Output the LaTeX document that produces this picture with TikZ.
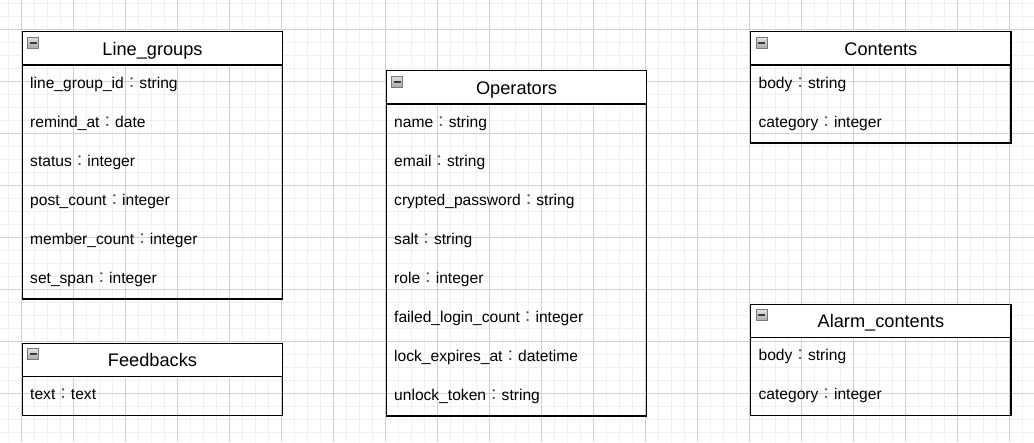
\documentclass[tikz,border=0pt]{standalone}
\usepackage{fontspec}
\setmainfont{Liberation Sans}
\newfontfamily\cjk{Noto Sans CJK JP}
\definecolor{coloncol}{HTML}{555555}
\newcommand\fwc{{\cjk\color{coloncol}：}}
\definecolor{minorgrid}{HTML}{F0F0F0}
\definecolor{majorgrid}{HTML}{D0D0D0}
\definecolor{iconborder}{HTML}{7A7A7A}
\definecolor{icontop}{HTML}{E2E2E2}
\definecolor{iconbot}{HTML}{A8A8A8}
\definecolor{icondash}{HTML}{3C3C3C}
\tikzset{
  tablebox/.style={draw=black, line width=1.3pt, rectangle, anchor=north west,
    minimum width=260.4pt, inner sep=0pt, outer sep=0pt},
  headbox/.style={draw=black, fill=white, line width=1.3pt, rectangle, anchor=north west,
    minimum width=260.4pt, minimum height=33.4pt, inner sep=0pt, outer sep=0pt},
  iconbox/.style={draw=iconborder, line width=0.9pt, top color=icontop, bottom color=iconbot,
    rectangle, anchor=north west, minimum width=11pt, minimum height=11pt, inner sep=0pt},
  icondashline/.style={draw=icondash, line width=2pt},
  titletxt/.style={font=\fontsize{18.2}{21}\selectfont, anchor=base, inner sep=0pt},
  rowtxt/.style={font=\fontsize{15.6}{18}\selectfont, anchor=base west, inner sep=0pt},
  minorline/.style={draw=minorgrid, line width=1.4pt},
  majorline/.style={draw=majorgrid, line width=1pt},
}
% #1 name, #2 x, #3 y, #4 rows, #5 title
\newcommand\ertable[5]{%
  \node[tablebox, minimum height={33.4pt+39pt*#4}] (#1) at (#2,#3) {};
  \node[headbox] (#1-head) at (#2,#3) {};
  \node[iconbox] (#1-icon) at (#2+5,#3+5) {};
  \draw[icondashline] ([xshift=2.2pt]#1-icon.west) -- ([xshift=-2.2pt]#1-icon.east);
  \node[titletxt] (#1-title) at (#2+130.2,#3+23.4) {#5};
}
% #1 node name, #2 x, #3 y, #4 row index (0-based), #5 text
\newcommand\errow[5]{%
  \node[rowtxt] (#1) at (#2+7.7,{#3+56.6+39*#4}) {#5};
}
\begin{document}
\begin{tikzpicture}[x=1pt,y=-1pt]
\useasboundingbox (0,0) rectangle (1034,442);
\begin{scope}
\clip (0,0) rectangle (1034,442);
\foreach \i in {0,...,80} {\draw[minorline] (8.3+13*\i,0) -- (8.3+13*\i,442);}
\foreach \i in {0,...,34} {\draw[minorline] (0,3.3+13*\i) -- (1034,3.3+13*\i);}
\foreach \i in {0,...,19} {\draw[majorline] (21.3+52*\i,0) -- (21.3+52*\i,442);}
\foreach \i in {0,...,8} {\draw[majorline] (0,29.3+52*\i) -- (1034,29.3+52*\i);}
\end{scope}

\ertable{lg}{22.3}{31.7}{6}{Line\_groups}
\errow{lg1}{22.3}{31.7}{0}{line\_group\_id\fwc string}
\errow{lg2}{22.3}{31.7}{1}{remind\_at\fwc date}
\errow{lg3}{22.3}{31.7}{2}{status\fwc integer}
\errow{lg4}{22.3}{31.7}{3}{post\_count\fwc integer}
\errow{lg5}{22.3}{31.7}{4}{member\_count\fwc integer}
\errow{lg6}{22.3}{31.7}{5}{set\_span\fwc integer}

\ertable{fb}{22.3}{343.3}{1}{Feedbacks}
\errow{fb1}{22.3}{343.3}{0}{text\fwc text}

\ertable{op}{386.3}{70.7}{8}{Operators}
\errow{op1}{386.3}{70.7}{0}{name\fwc string}
\errow{op2}{386.3}{70.7}{1}{email\fwc string}
\errow{op3}{386.3}{70.7}{2}{crypted\_password\fwc string}
\errow{op4}{386.3}{70.7}{3}{salt\fwc string}
\errow{op5}{386.3}{70.7}{4}{role\fwc integer}
\errow{op6}{386.3}{70.7}{5}{failed\_login\_count\fwc integer}
\errow{op7}{386.3}{70.7}{6}{lock\_expires\_at\fwc datetime}
\errow{op8}{386.3}{70.7}{7}{unlock\_token\fwc string}

\ertable{ct}{750.7}{31.7}{2}{Contents}
\errow{ct1}{750.7}{31.7}{0}{body\fwc string}
\errow{ct2}{750.7}{31.7}{1}{category\fwc integer}

\ertable{ac}{750.7}{304.3}{2}{Alarm\_contents}
\errow{ac1}{750.7}{304.3}{0}{body\fwc string}
\errow{ac2}{750.7}{304.3}{1}{category\fwc integer}
\end{tikzpicture}
\end{document}
